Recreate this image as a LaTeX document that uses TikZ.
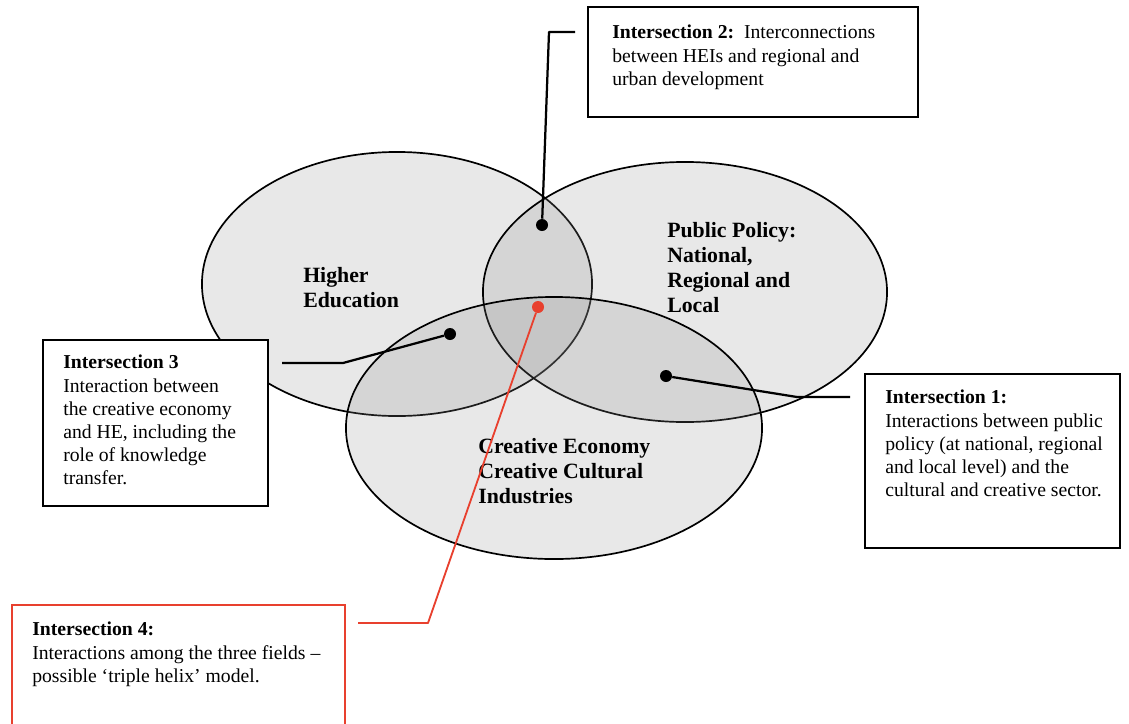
\documentclass[tikz,border=0pt]{standalone}
\usepackage{fontspec}
\setmainfont{Liberation Serif}
\usetikzlibrary{shapes.geometric}
\definecolor{linkred}{HTML}{E8402E}
\tikzset{
  field/.style={ellipse, draw, line width=1.2pt, fill=black!45, fill opacity=0.2, draw opacity=1, inner sep=0pt},
  fieldlabel/.style={font=\bfseries\fontsize{15.5}{17.8}\selectfont, align=left, inner sep=0pt, anchor=north west},
  note/.style={draw, line width=1.6pt, fill=white},
  notetext/.style={font=\fontsize{14}{16.4}\selectfont, align=left, inner sep=0pt, anchor=north west},
  dot/.style={circle, fill=black, minimum size=0.3cm, inner sep=0pt},
  link/.style={line width=1.6pt, line join=round}
}

\begin{document}
\begin{tikzpicture}[x=0.025cm, y=-0.025cm]
            \path[use as bounding box, fill=white] (0,0) rectangle (1129,723);
            % the three fields
            \node[field, minimum width=9.75cm, minimum height=6.6cm] (HE) at (397,284) {};
            \node[field, minimum width=10.1cm, minimum height=6.5cm] (PP) at (685,292) {};
            \node[field, minimum width=10.4cm, minimum height=6.55cm] (CE) at (554,428) {};
            \node[fieldlabel] (HEt) at (303,267) {Higher\\Education};
            \node[fieldlabel] (PPt) at (667,222) {Public Policy:\\National,\\Regional and\\Local};
            \node[fieldlabel] (CEt) at (478,438) {Creative Economy\\Creative Cultural\\Industries};
            % boxes
            \node[note, minimum width=8.25cm, minimum height=2.75cm] (B2) at (753,62) {};
            \node[note, minimum width=5.625cm, minimum height=4.15cm] (B3) at (155.5,423) {};
            \node[note, minimum width=6.375cm, minimum height=4.35cm] (B1) at (992.5,461) {};
            \node[note, draw=linkred, minimum width=8.325cm, minimum height=3.4cm] (B4) at (178.5,673) {};
            \node[notetext] (T2) at (612,25) {\textbf{Intersection 2:}\ \ Interconnections\\between HEIs and regional and\\urban development};
            \node[notetext] (T3) at (63,355) {\textbf{Intersection 3}\\Interaction between\\the creative economy\\and HE, including the\\role of knowledge\\transfer.};
            \node[notetext] (T1) at (885,390) {\textbf{Intersection 1:}\\Interactions between public\\policy (at national, regional\\and local level) and the\\cultural and creative sector.};
            \node[notetext] (T4) at (32,622) {\textbf{Intersection 4:}\\Interactions among the three fields --\\possible `triple helix' model.};
            % dots and leaders
            \node[dot] (d2) at (542,225) {};
            \node[dot] (d3) at (450,334) {};
            \node[dot] (d1) at (666,376) {};
            \node[dot, fill=linkred] (d4) at (538,307) {};
            \coordinate (c2) at (549,32);  \coordinate (e2) at (575,32);
            \coordinate (c3) at (343,363); \coordinate (e3) at (282,363);
            \coordinate (c1) at (797,397); \coordinate (e1) at (850,397);
            \coordinate (c4) at (428,623); \coordinate (e4) at (358,623);
            \draw[link] (d2) -- (c2) -- (e2);
            \draw[link] (d3) -- (c3) -- (e3);
            \draw[link] (d1) -- (c1) -- (e1);
            \draw[link, linkred, line width=1.3pt] (d4) -- (c4) -- (e4);
        \end{tikzpicture}
\end{document}
